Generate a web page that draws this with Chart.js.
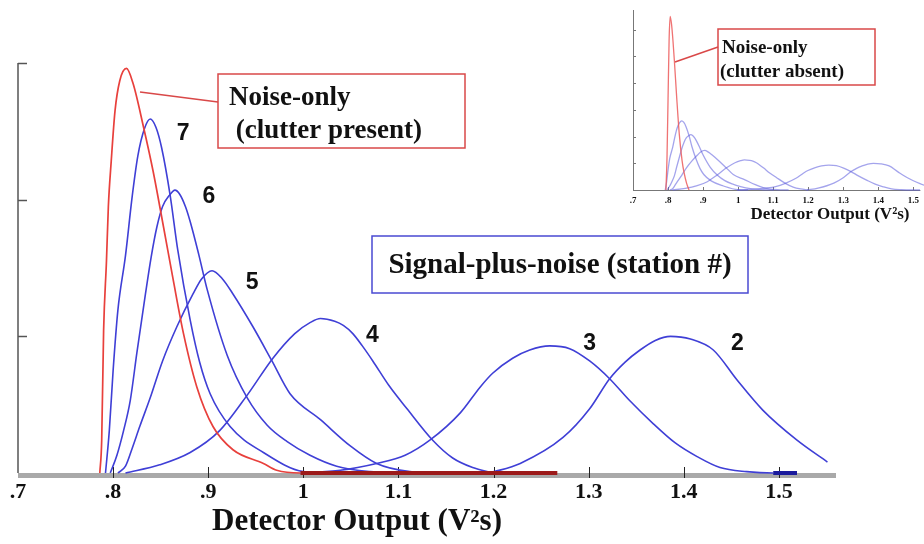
<!DOCTYPE html>
<html>
<head>
<meta charset="utf-8">
<script src="https://cdn.jsdelivr.net/npm/chart.js@4.4.1/dist/chart.umd.min.js"></script>
<style>
  body { margin: 0; background: #fff; }
  #wrap { position: relative; width: 924px; height: 544px; }
  #main { position: absolute; left: 0; top: 0; }
  #inset { position: absolute; left: 620px; top: 0; }
</style>
</head>
<body>
<div id="wrap">
  <canvas id="main" width="924" height="544"></canvas>
  <canvas id="inset" width="304" height="240"></canvas>
</div>
<script>
// noise-only density, clutter present (detector output in V^2 s)
const noiseX = [0.786, 0.788, 0.790, 0.793, 0.795, 0.798, 0.802, 0.807, 0.814, 0.821, 0.832, 0.842, 0.853, 0.863, 0.874, 0.888, 0.905, 0.926, 0.958, 0.972, 0.997, 1.267];
const noiseY = [0, 0.24, 1.04, 1.55, 1.95, 2.28, 2.65, 2.87, 2.96, 2.85, 2.53, 2.21, 1.80, 1.42, 1.02, 0.63, 0.34, 0.17, 0.07, 0.02, 0, 0];

// noise-only density, clutter absent (small plot)
const quietX = [0.794, 0.797, 0.800, 0.803, 0.806, 0.810, 0.814, 0.818, 0.825, 0.832, 0.840, 0.846, 0.853, 0.860];
const quietY = [0, 1.2, 3.4, 5.6, 6.5, 6.2, 5.6, 4.85, 3.4, 2.1, 1.1, 0.63, 0.25, 0];

// signal-plus-noise, one curve per station
const stationNames = ['7', '6', '5', '4', '3', '2'];
const station7X = [0.792, 0.796, 0.800, 0.805, 0.813, 0.820, 0.826, 0.833, 0.839, 0.845, 0.851, 0.860, 0.868, 0.881, 0.891, 0.902, 0.923, 0.958, 1.000, 1.028];
const station7Y = [0, 0.31, 0.75, 1.19, 1.59, 2.02, 2.32, 2.52, 2.59, 2.53, 2.38, 2.03, 1.63, 1.12, 0.81, 0.58, 0.34, 0.15, 0.01, 0];
const station6X = [0.797, 0.804, 0.811, 0.818, 0.825, 0.834, 0.840, 0.846, 0.852, 0.859, 0.865, 0.870, 0.876, 0.881, 0.890, 0.899, 0.920, 0.941, 0.962, 0.983, 1.007, 1.035, 1.070, 1.102];
const station6Y = [0, 0.13, 0.31, 0.53, 0.88, 1.31, 1.58, 1.80, 1.95, 2.03, 2.07, 2.04, 1.95, 1.84, 1.60, 1.34, 0.86, 0.55, 0.35, 0.23, 0.13, 0.05, 0.01, 0];
const station5X = [0.805, 0.813, 0.820, 0.828, 0.839, 0.852, 0.867, 0.884, 0.893, 0.904, 0.915, 0.926, 0.947, 0.967, 0.986, 1.018, 1.049, 1.077, 1.112, 1.144];
const station5Y = [0, 0.05, 0.18, 0.34, 0.55, 0.82, 1.07, 1.31, 1.42, 1.48, 1.42, 1.31, 1.07, 0.82, 0.58, 0.39, 0.20, 0.07, 0.01, 0];
const station4X = [0.813, 0.849, 0.881, 0.912, 0.941, 0.968, 0.991, 1.007, 1.018, 1.033, 1.042, 1.052, 1.062, 1.073, 1.090, 1.109, 1.136, 1.157, 1.178, 1.199];
const station4Y = [0, 0.06, 0.15, 0.31, 0.57, 0.84, 1.02, 1.10, 1.13, 1.11, 1.08, 1.02, 0.93, 0.82, 0.64, 0.47, 0.24, 0.11, 0.04, 0];
const station3X = [0.997, 1.039, 1.077, 1.107, 1.133, 1.165, 1.186, 1.199, 1.220, 1.238, 1.259, 1.280, 1.301, 1.322, 1.343, 1.368, 1.391, 1.414, 1.438, 1.466, 1.494, 1.519];
const station3Y = [0, 0.02, 0.07, 0.13, 0.24, 0.44, 0.63, 0.73, 0.84, 0.90, 0.93, 0.91, 0.82, 0.69, 0.53, 0.36, 0.22, 0.12, 0.04, 0.01, 0, 0];
const station2X = [1.196, 1.228, 1.273, 1.301, 1.322, 1.338, 1.354, 1.370, 1.386, 1.407, 1.431, 1.456, 1.483, 1.519, 1.551];
const station2Y = [0, 0.07, 0.26, 0.47, 0.69, 0.81, 0.90, 0.97, 1.00, 0.98, 0.90, 0.68, 0.46, 0.24, 0.08];

const stationX = [station7X, station6X, station5X, station4X, station3X, station2X];
const stationY = [station7Y, station6Y, station5Y, station4Y, station3Y, station2Y];

const tickValues = [0.7, 0.8, 0.9, 1.0, 1.1, 1.2, 1.3, 1.4, 1.5];
const tickLabels = ['.7', '.8', '.9', '1', '1.1', '1.2', '1.3', '1.4', '1.5'];
const yTicksMain = [1, 2, 3];
const yTicksInset = [1, 2, 3, 4, 5, 6];

const RED = '#e8403c';
const BLUE = '#3f3fd6';
const SERIF = '"Liberation Serif", "DejaVu Serif", serif';

const zip = (xs, ys) => xs.map((x, i) => ({ x: x, y: ys[i] }));

// segments lying on the baseline are drawn darker and heavier
function flatSegment(dark, normal, wide, thin) {
  return {
    borderColor: ctx => (ctx.p0.parsed.y === 0 && ctx.p1.parsed.y === 0) ? dark : normal,
    borderWidth: ctx => (ctx.p0.parsed.y === 0 && ctx.p1.parsed.y === 0) ? wide : thin
  };
}

function line(ctx, x1, y1, x2, y2) {
  ctx.beginPath();
  ctx.moveTo(x1, y1);
  ctx.lineTo(x2, y2);
  ctx.stroke();
}

const mainDecor = {
  id: 'mainDecor',
  beforeDatasetsDraw(chart) {
    const { ctx, chartArea: a, scales: { x, y } } = chart;
    ctx.save();
    // grey axis bar
    ctx.fillStyle = '#a9a9a9';
    ctx.fillRect(a.left, a.bottom, a.right - a.left, 5);
    ctx.strokeStyle = '#222';
    ctx.lineWidth = 1;
    tickValues.slice(1).forEach(v => {
      const px = Math.round(x.getPixelForValue(v)) + 0.5;
      line(ctx, px, a.bottom + 5, px, a.bottom - 6);
    });
    // y axis with inward ticks
    ctx.strokeStyle = '#555';
    ctx.lineWidth = 1.5;
    line(ctx, a.left, a.top, a.left, a.bottom);
    yTicksMain.forEach(v => {
      const py = Math.round(y.getPixelForValue(v)) + 0.5;
      line(ctx, a.left, py, a.left + 9, py);
    });
    ctx.restore();
  },
  afterDatasetsDraw(chart) {
    const { ctx, scales: { x, y } } = chart;
    const offsets = [[33, 15], [34, 7], [40, 12], [52, 17], [40, -2], [67, 7]];
    ctx.save();
    ctx.fillStyle = '#111';
    ctx.textAlign = 'center';
    ctx.textBaseline = 'middle';
    ctx.font = 'bold 23px "Liberation Sans", Arial, sans-serif';
    stationNames.forEach((name, i) => {
      const ys = stationY[i];
      const k = ys.indexOf(Math.max(...ys));
      const px = x.getPixelForValue(stationX[i][k]) + offsets[i][0];
      const py = y.getPixelForValue(ys[k]) + offsets[i][1];
      ctx.fillText(name, px, py);
    });

    // noise-only callout
    ctx.strokeStyle = '#d94848';
    ctx.lineWidth = 1.5;
    line(ctx, 140, 92, 218, 102);
    ctx.strokeRect(218, 74, 247, 74);
    ctx.textAlign = 'left';
    ctx.font = 'bold 27px ' + SERIF;
    ctx.fillText('Noise-only', 229, 98);
    ctx.fillText(' (clutter present)', 229, 131);

    // signal-plus-noise callout
    ctx.strokeStyle = '#4a4ad2';
    ctx.strokeRect(372, 236, 376, 57);
    ctx.textAlign = 'center';
    ctx.font = 'bold 29px ' + SERIF;
    ctx.fillText('Signal-plus-noise (station #)', 560, 266);

    // axis title
    ctx.font = 'bold 31px ' + SERIF;
    ctx.fillText('Detector Output (V\u00b2s)', 357, 522);
    ctx.restore();
  }
};

const insetDecor = {
  id: 'insetDecor',
  beforeDatasetsDraw(chart) {
    const { ctx, chartArea: a, scales: { x, y } } = chart;
    ctx.save();
    ctx.strokeStyle = '#777';
    ctx.lineWidth = 1;
    line(ctx, a.left + 0.5, a.top, a.left + 0.5, a.bottom);
    line(ctx, a.left, a.bottom + 0.5, a.right, a.bottom + 0.5);
    yTicksInset.forEach(v => {
      const py = Math.round(y.getPixelForValue(v)) + 0.5;
      line(ctx, a.left, py, a.left + 3, py);
    });
    tickValues.slice(1).forEach(v => {
      const px = Math.round(x.getPixelForValue(v)) + 0.5;
      line(ctx, px, a.bottom, px, a.bottom - 3);
    });
    ctx.restore();
  },
  afterDatasetsDraw(chart) {
    const { ctx } = chart;
    ctx.save();
    ctx.strokeStyle = '#d94848';
    ctx.lineWidth = 1.5;
    line(ctx, 55, 62, 98, 47);
    ctx.strokeRect(98, 29, 157, 56);
    ctx.fillStyle = '#111';
    ctx.textAlign = 'left';
    ctx.textBaseline = 'middle';
    ctx.font = 'bold 19px ' + SERIF;
    ctx.fillText('Noise-only', 102, 48);
    ctx.fillText('(clutter absent)', 100, 72);
    ctx.textAlign = 'center';
    ctx.font = 'bold 17px ' + SERIF;
    ctx.fillText('Detector Output (V\u00b2s)', 210, 215);
    ctx.restore();
  }
};

function xAxis(max, size, pad, height) {
  return {
    type: 'linear',
    min: 0.7,
    max: max,
    afterBuildTicks: s => { s.ticks = tickValues.map(v => ({ value: v })); },
    afterFit: s => { s.height = height; },
    grid: { display: false, drawTicks: false },
    border: { display: false },
    ticks: {
      padding: pad,
      maxRotation: 0,
      autoSkip: false,
      color: '#111',
      font: { family: SERIF, weight: 'bold', size: size },
      callback: (v, i) => tickLabels[i]
    }
  };
}

const common = {
  responsive: false,
  animation: false,
  events: [],
  plugins: { legend: { display: false }, tooltip: { enabled: false } },
  elements: { point: { radius: 0 }, line: { cubicInterpolationMode: 'monotone' } }
};

const mainSets = [{
  label: 'Noise-only (clutter present)',
  data: zip(noiseX, noiseY),
  borderColor: RED,
  borderWidth: 1.7,
  clip: false,
  segment: flatSegment('#9c1a1a', RED, 4, 1.7)
}].concat(stationNames.map((name, i) => ({
  label: 'Station ' + name,
  data: zip(stationX[i], stationY[i]),
  borderColor: BLUE,
  borderWidth: 1.6,
  clip: false,
  segment: flatSegment('#1a1a9c', BLUE, 4, 1.6)
})));

new Chart(document.getElementById('main'), {
  type: 'line',
  data: { datasets: mainSets },
  options: Object.assign({}, common, {
    layout: { padding: { left: 18, top: 63, right: 88, bottom: 0 } },
    scales: {
      x: xAxis(1.56, 22, 6, 71),
      y: { type: 'linear', min: 0, max: 3, display: false }
    }
  }),
  plugins: [mainDecor]
});

const insetSets = [{
  label: 'Noise-only (clutter absent)',
  data: zip(quietX, quietY),
  borderColor: 'rgba(236, 90, 90, 0.85)',
  borderWidth: 1.3,
  clip: false
}].concat(stationNames.map((name, i) => ({
  label: 'Station ' + name,
  data: zip(stationX[i], stationY[i]),
  borderColor: 'rgba(90, 90, 220, 0.55)',
  borderWidth: 1.3,
  clip: false
})));

new Chart(document.getElementById('inset'), {
  type: 'line',
  data: { datasets: insetSets },
  options: Object.assign({}, common, {
    layout: { padding: { left: 13, top: 10, right: 0, bottom: 0 } },
    scales: {
      x: xAxis(1.52, 9, 5, 50),
      y: { type: 'linear', min: 0, max: 6.74, display: false }
    }
  }),
  plugins: [insetDecor]
});
</script>
</body>
</html>
